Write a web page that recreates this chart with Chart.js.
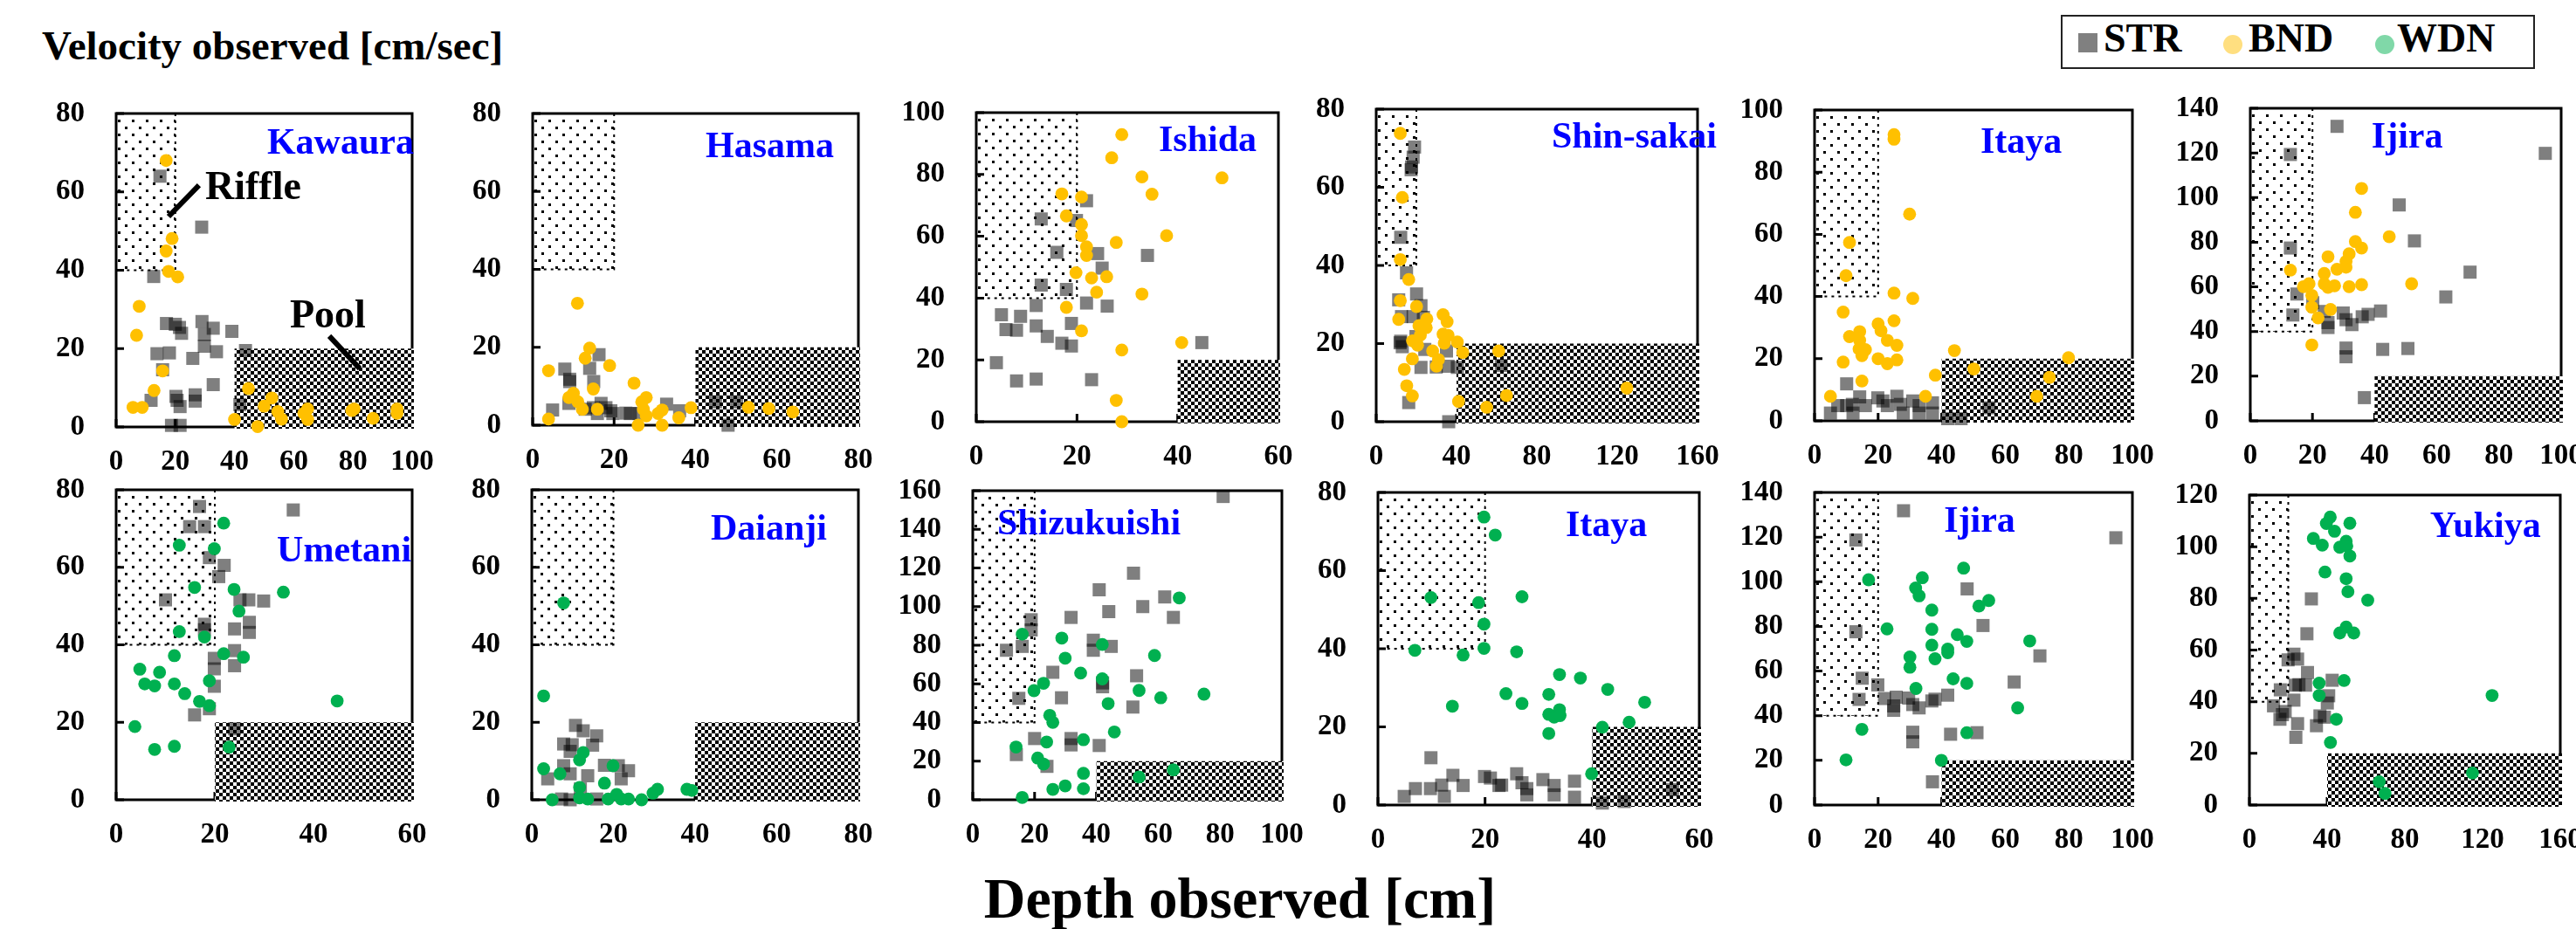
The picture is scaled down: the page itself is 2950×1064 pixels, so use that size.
<!DOCTYPE html>
<html>
<head>
<meta charset="utf-8">
<script src="https://cdn.jsdelivr.net/npm/chart.js@4.4.0/dist/chart.umd.min.js"></script>
<style>
html, body { margin: 0; padding: 0; background: #fff; }
#page { position: relative; width: 2950px; height: 1064px; overflow: hidden; background: #fff;
  font-family: "Liberation Serif", "Times New Roman", serif; font-weight: bold; color: #000; }
#page canvas { position: absolute; }
.title { position: absolute; white-space: nowrap; line-height: 1; }
#legend { position: absolute; left: 2360px; top: 17px; width: 539px; height: 58px;
  border: 2px solid #222; box-sizing: content-box; }
#legend span { position: absolute; }
.mark { width: 22px; height: 22px; }
.ltext { font-size: 46px; line-height: 1; top: 2px; }
</style>
</head>
<body>
<div id="page">
  <div class="title" style="left:48px; top:29px; font-size:47px;">Velocity observed [cm/sec]</div>
  <div class="title" id="xtitle" style="left:1420px; top:996px; font-size:66px; transform:translateX(-50%);">Depth observed [cm]</div>
  <div id="legend">
    <span class="mark" style="left:18px; top:19px; background:#808080;"></span>
    <span class="ltext" style="left:47px;">STR</span>
    <span class="mark" style="left:184px; top:21px; border-radius:50%; background:#ffdf80;"></span>
    <span class="ltext" style="left:213px;">BND</span>
    <span class="mark" style="left:358px; top:21px; border-radius:50%; background:#80d8a8;"></span>
    <span class="ltext" style="left:383px;">WDN</span>
  </div>
</div>
<script>
// axis settings per panel (top row left to right, then bottom row)
const stationNames = ['Kawaura', 'Hasama', 'Ishida', 'Shin-sakai', 'Itaya', 'Ijira',
                      'Umetani', 'Daianji', 'Shizukuishi', 'Itaya', 'Ijira', 'Yukiya'];
const xMaxes = [100, 80, 60, 160, 100, 100, 60, 80, 100, 60, 100, 160];
const xSteps = [20, 20, 20, 40, 20, 20, 20, 20, 20, 20, 20, 40];
const yMaxes = [80, 80, 100, 80, 100, 140, 80, 80, 160, 80, 140, 120];
const ySteps = [20, 20, 20, 20, 20, 20, 20, 20, 20, 20, 20, 20];
// riffle: depth < 20, velocity > 40 ; pool: depth > poolStart, velocity < 20
const riffleZone = [0, 20, 40];
const poolStart = [40, 40, 40, 40, 40, 40, 20, 40, 40, 40, 40, 40];
const poolTop = 20;

// [depth, velocity]
const kawauraSTR = [[14.8,64],[28.9,51],[12.7,38.4],[17,26.4],[20,26.2],[21.4,25.4],[22.1,23.9],[29,26.9],[32.8,25.2],[39.1,24.4],[29.8,23.6],[29.8,20.6],[13.8,18.7],[18,18.9],[25.9,17.5],[33.9,19.2],[43.7,19.5],[15.7,14.6],[32.8,10.8],[11.8,6.8],[20.2,7.8],[20.6,6.8],[21.6,5.2],[26.7,8.2],[26.7,6.6],[41.8,5.7],[18.7,0.4],[21.6,0.4]];
const kawauraBND = [[16.9,68],[18.9,48.1],[16.9,44.9],[17.7,39.7],[20.8,38.3],[7.8,30.8],[6.9,23.4],[15.7,14.3],[12.8,9.3],[5.7,5],[8.8,5],[44.7,9.8],[52.6,7.4],[50,5.3],[54.6,3.9],[55.9,2],[40,1.9],[47.8,0.1],[64.7,4.6],[63.4,3.5],[64.7,1.9],[80.4,4.6],[79.6,4.2],[86.8,2.2],[94.9,4.6],[94.9,3.5]];
const hasamaSTR = [[16.3,18.1],[7.9,14.4],[14,14.6],[9.1,11.8],[9.1,11.2],[15,11.2],[4.9,3.9],[8.9,5.6],[12.9,4.1],[14.9,4.5],[16.8,5.6],[15.9,3],[18,4.5],[19.2,3.7],[19.7,3],[22.9,3.1],[24,3],[26.1,3],[32.9,5.4],[36.1,3.7],[44.9,6],[50.1,6],[48,0]];
const hasamaBND = [[11,31.3],[14,19.8],[12.9,17.2],[18.9,15.3],[3.9,14],[24.9,10.8],[14.9,9.3],[10,8.2],[8.9,7.1],[11.1,6],[12.2,4.1],[15.9,4.1],[3.9,1.6],[27.9,7.1],[26.8,6],[27.2,4.1],[27.9,2.4],[25.9,0],[31.8,3.9],[30.8,3],[31.8,0],[35.9,1.9],[38.9,4.5],[53,4.6],[58,4.3],[63.9,3.4]];
const ishidaSTR = [[21.9,71.5],[12.9,65.6],[19.9,65.1],[16,54.8],[24.1,54.4],[34,53.8],[25,49.7],[12.9,44.2],[17.9,42.8],[21.9,38.4],[11.9,37.6],[26,37.4],[5,34.6],[8.8,34.1],[5.9,29.8],[8,29.6],[11.9,31],[18.9,31.8],[14.1,27.6],[17,25.4],[18.9,24.5],[44.8,25.6],[4,19.1],[8,13.2],[11.9,13.8],[22.9,13.6]];
const ishidaBND = [[28.9,92.9],[26.9,85.4],[32.9,79.2],[48.8,78.9],[34.9,73.6],[17,73.7],[20.9,72.7],[17.9,66.6],[20.9,63.8],[20.9,60.2],[37.8,60.2],[27.8,58],[21.9,56.6],[21.9,53.8],[19.8,48.2],[22.9,46.5],[25.9,46.9],[23.9,41.9],[32.9,41.3],[17.9,37],[20.9,29.4],[40.8,25.6],[28.9,23.2],[27.8,6.9],[28.9,0]];
const shinsakaiSTR = [[19.1,70.3],[18.4,67.7],[17.4,64.5],[17.6,65.2],[12.2,47.2],[15.1,38.1],[20.1,32.7],[11.2,31.2],[22.3,29.7],[12.6,26.9],[18.4,26.9],[23.5,26.7],[19.8,21.8],[11.9,20.2],[12.2,20.6],[13,19.2],[24.2,18.5],[35,18.1],[22.3,13.9],[29.9,14],[35.8,14.2],[40.4,13.9],[62.3,14.4],[16.2,4.9],[36.1,0]];
const shinsakaiBND = [[12,73.8],[13,57.4],[12,41.5],[16.2,36.4],[12,31],[20.1,29.5],[11.2,26.2],[33.3,27.4],[35.3,25.6],[25.2,26.3],[21.3,24.6],[24.9,24.1],[22,22.2],[33.3,22.4],[35.8,22.1],[18.1,20.7],[20.6,19.6],[33.9,20.1],[40.4,20.4],[43.1,17.7],[28.1,18.1],[31,15.9],[30,14.2],[18,16.1],[14,13.4],[61,18.1],[15.2,9.2],[18,6.6],[41,5.2],[55,3.7],[64.9,6.7],[124.8,8.6]];
const itayaTopSTR = [[10.1,11.9],[5,2.5],[7.3,4.9],[10.1,4.9],[11.9,5.3],[14.2,7.7],[12.1,2.5],[16,4.9],[19.9,7.4],[21.5,6.4],[22.9,4.9],[25.9,7.9],[27,5.3],[27.9,2.5],[30.9,6.4],[32.9,4.9],[32.9,2.5],[37.1,5.8],[37.1,2.5],[41.9,0.7],[46.1,0.7],[54.9,4.2]];
const itayaTopBND = [[25,92.1],[25,90.6],[29.9,66.5],[11,57.4],[9.9,46.7],[25,41.1],[30.9,39.4],[9,35],[25,32.2],[20,31.2],[14.2,28.7],[20.9,29],[11,27.1],[14.2,25.9],[22.9,25.9],[25.9,24.3],[14,23.1],[16,22.9],[14.9,21],[20,20],[25.9,19.6],[22.9,18.4],[9,18.9],[14.9,12.8],[5,7.9],[34.9,7.9],[38,14.7],[44,22.6],[50.1,16.7],[73.9,14],[69.9,7.9],[79.9,20.3]];
const ijiraTopSTR = [[27.9,131.9],[94.9,119.8],[12.9,119.3],[47.9,96.7],[52.8,80.6],[12.9,77.4],[70.7,66.6],[62.9,55.5],[15,56.8],[13.7,47.4],[20.1,52.9],[23.8,49],[25,44],[25,41.8],[29.9,48.3],[30.8,45.3],[32.7,43.1],[36,46.6],[37.9,47.7],[41.9,49.2],[30.8,32.6],[30.8,28.7],[42.6,32],[50.7,32.4],[36.7,10.4]];
const ijiraTopBND = [[35.8,104.1],[33.8,93.4],[44.7,82.5],[33.8,80.3],[35.8,77.4],[31.8,74.8],[25,73.5],[30.8,71.4],[27.9,67.9],[30.8,68.8],[12.9,67.5],[23.8,66],[18.9,61.4],[17.1,60.1],[23.8,61.4],[25,59.8],[27.1,60.5],[31.8,60.1],[35.8,61],[51.9,61.4],[19.8,56.2],[19.8,50.9],[25.8,49.9],[21.8,46.1],[19.8,34]];
const umetaniSTR = [[16.9,75.7],[35.9,74.8],[14.9,70.5],[17.9,70.5],[18.9,62.5],[21.9,60.5],[20.8,57.6],[10,51.6],[25.1,51.6],[26.9,51.6],[29.9,51.3],[17.9,45.3],[17.9,43.9],[27,45.8],[27,43.2],[24,44.1],[24,38.5],[19.9,36.5],[19.9,33.8],[24,34.6],[19.9,29.3],[18.9,23.5],[15.9,21.9],[24,18.3]];
const umetaniWDN = [[21.8,71.4],[12.8,65.7],[19.9,64.8],[15.9,54.8],[23.9,54.3],[33.9,53.6],[24.9,48.7],[12.8,43.4],[17.9,42],[11.8,37.2],[21.8,37.7],[25.8,36.8],[4.8,33.7],[8.8,32.9],[11.8,29.9],[18.9,30.7],[5.8,29.9],[7.8,29.4],[13.9,27.4],[16.9,25.4],[18.9,24.3],[44.8,25.5],[3.8,18.9],[7.8,13],[11.8,13.8],[22.9,13.6]];
const daianjiSTR = [[10.7,19.2],[12.6,17.8],[15.9,16.5],[7.8,14.4],[9.9,14.2],[14.9,14.1],[9.4,12.5],[7.8,8.8],[9.4,6.7],[3.9,5.4],[13.7,6.2],[17.8,8.9],[21.2,8.8],[23.7,7.5],[21.9,5.4],[11.9,2.8],[7.3,0.2],[9.4,0],[15.9,0.2]];
const daianjiWDN = [[7.8,50.8],[2.9,26.8],[12.6,12.2],[11.7,10.3],[19.9,8.8],[2.9,8],[6.9,6.7],[17.8,4.3],[11.7,3.2],[11.7,0.5],[13.7,0.2],[5,0],[18.7,0.2],[20.8,1.4],[21.9,0.2],[23.7,0.2],[26.9,0],[29.7,1.7],[30.8,2.7],[38,2.7],[39.2,2.4]];
const shizukuishiSTR = [[81,157],[52,117.3],[40.9,108.7],[62.1,105],[55,100],[44,97.4],[31.8,94.4],[64.9,94.4],[18.9,93.2],[18.9,87.9],[39,82.6],[39,77.4],[44.8,79.4],[16,79.4],[10.9,77.4],[25.9,66],[53,64.2],[42,58.5],[42,60.5],[14.9,52.5],[28.7,52.8],[51.8,48],[20,31.7],[31.8,31.7],[31.8,28.4],[40.9,28.1],[14.1,23.4],[24,17.3]];
const shizukuishiWDN = [[66.8,104.5],[16,85.7],[28.8,83.7],[41.9,80.4],[29.9,73.3],[58.8,74.7],[34.9,65.6],[41.9,62.6],[22.9,60.3],[19.8,56.5],[53.8,56.6],[60.8,52.8],[74.8,54.7],[43.8,49.8],[24.9,43.7],[25.9,40.1],[45.8,35.1],[14,27.3],[23.9,29.9],[35.8,31.1],[21,21.6],[22.9,18.5],[35.8,13.7],[53.8,11.8],[64.9,15.5],[25.9,5.4],[29.9,7.2],[35.8,5.7],[16,1.2]];
const itayaBotSTR = [[9.9,12.1],[14,7.6],[19.9,7.3],[21,6.9],[25.9,8],[30.8,6.5],[26.9,5.7],[36.7,6.1],[15.9,5],[11.9,5.1],[9.8,4.2],[7,4.2],[4.9,2.2],[22.6,5],[23.1,5.1],[27.8,4.2],[32.9,5],[32.9,2.6],[27.8,2.6],[12.4,2.2],[36.7,2],[41.9,0.5],[46,0.9],[55,3.9]];
const itayaBotWDN = [[19.8,73.7],[21.9,69.1],[9.9,53.1],[18.8,51.8],[26.9,53.3],[19.8,46.3],[19.8,40.1],[6.9,39.6],[15.9,38.4],[25.9,39.2],[33.9,33.4],[37.8,32.5],[42.9,29.6],[23.9,28.5],[31.9,28.3],[49.8,26.3],[26.9,26],[13.9,25.3],[33.9,24.4],[31.9,23.2],[32.9,22.5],[34,22.9],[46.9,21.2],[41.9,19.9],[31.9,18.3],[39.9,8]];
const ijiraBotSTR = [[28,131.8],[94.8,119.7],[13,118.7],[48,96.8],[53,80.4],[13,77.6],[70.9,66.8],[62.8,55.1],[15,56.8],[19.9,53.8],[14,47.3],[22,47.7],[25.7,48.3],[29.6,47.9],[24.9,44.4],[24.9,42.4],[30.9,45],[32.9,43.5],[36.9,46.6],[37.9,47.4],[41.9,49.2],[30.9,32.6],[30.9,28.3],[42.8,31.7],[51.1,32.4],[37.1,10.4]];
const ijiraBotWDN = [[46.9,106.1],[33.9,101.8],[17,100.9],[31.8,97.2],[32.9,93.7],[54.8,91.6],[51.7,89.1],[36.9,87.3],[22.8,78.9],[36.9,78.7],[44.9,76.3],[47.9,73.3],[67.7,73.5],[36.9,71.6],[41.9,69.8],[41.9,68.2],[30,66.3],[37.9,65.5],[30,61.7],[43.6,56.5],[47.9,54.5],[31.9,52.2],[63.9,43.5],[14.9,33.9],[47.9,32.4],[9.9,20.2],[39.9,20]];
const yukiyaSTR = [[31.9,79.8],[29.6,66.3],[22.9,58.4],[19.9,56.2],[24.8,56.5],[29.9,51.3],[23.6,46.4],[25.5,46.6],[28.9,46.4],[42.6,48.3],[15.9,44.6],[22.9,40.6],[40.8,42.3],[40.1,39.5],[12.4,38.4],[18.4,36.2],[17,35],[15.7,33.2],[36.3,34.5],[38.6,34],[24.8,31.5],[34.5,30.7],[23.9,26.2]];
const yukiyaWDN = [[41.6,111.5],[39.6,109],[51.7,109.1],[43.8,106],[32.9,103.2],[49.8,102.1],[37.5,100.6],[46.5,99.8],[50.1,100.3],[51.7,96.4],[38.9,90.2],[49.8,87.6],[50.7,82.6],[60.9,79.3],[46.5,66.6],[49.8,68.9],[53.7,66.6],[35.9,47.2],[48.7,48.2],[35.9,42.4],[124.9,42.4],[44.7,33.2],[41.7,24.2],[114.8,12.4],[66.8,9],[69.8,4.5]];

const strSets = [kawauraSTR, hasamaSTR, ishidaSTR, shinsakaiSTR, itayaTopSTR, ijiraTopSTR,
                 umetaniSTR, daianjiSTR, shizukuishiSTR, itayaBotSTR, ijiraBotSTR, yukiyaSTR];
const otherSets = [kawauraBND, hasamaBND, ishidaBND, shinsakaiBND, itayaTopBND, ijiraTopBND,
                   umetaniWDN, daianjiWDN, shizukuishiWDN, itayaBotWDN, ijiraBotWDN, yukiyaWDN];

// plot boxes on the page [left, top, right, bottom]
const boxes = [
  [133,130,472,489], [610,130,983,487], [1118,129,1464,483], [1576,125,1944,483], [2078,126,2442,482], [2577,124,2933,482],
  [133,561,472,916], [609,561,983,916], [1114,562,1468,916], [1578,564,1946,922], [2078,564,2442,922], [2576,567,2932,922]
];
// station name position as fraction of plot box [left, baseline]
const namePos = [[0.51,0.128],[0.531,0.14],[0.604,0.124],[0.546,0.123],[0.522,0.138],[0.39,0.126],
                 [0.543,0.231],[0.548,0.161],[0.079,0.141],[0.584,0.14],[0.407,0.126],[0.581,0.135]];

const FONT = "'Liberation Serif', 'Times New Roman', serif";
const PAD_L = 110, PAD_T = 25, PAD_R = 40, AX_H = 70;

function makePatterns(ctx) {
  const d = document.createElement('canvas');
  d.width = 16; d.height = 16;
  const g = d.getContext('2d');
  g.fillStyle = '#000';
  g.fillRect(0, 0, 3, 3);
  g.fillRect(8, 8, 3, 3);
  const c = document.createElement('canvas');
  c.width = 8; c.height = 8;
  const h = c.getContext('2d');
  h.fillStyle = '#fff'; h.fillRect(0, 0, 8, 8);
  h.fillStyle = '#000';
  h.fillRect(0, 0, 4, 4);
  h.fillRect(4, 4, 4, 4);
  return { dots: ctx.createPattern(d, 'repeat'), checks: ctx.createPattern(c, 'repeat') };
}

const panelDecor = {
  id: 'panelDecor',
  beforeDatasetsDraw(chart, args, opts) {
    const { ctx, chartArea: a } = chart;
    const x = chart.scales.x, y = chart.scales.y;
    const pats = makePatterns(ctx);
    ctx.save();
    // frame
    ctx.strokeStyle = '#000';
    ctx.lineWidth = 3;
    ctx.strokeRect(a.left, a.top, a.right - a.left, a.bottom - a.top);
    // inner tick marks
    ctx.beginPath();
    x.ticks.forEach(t => {
      const px = x.getPixelForValue(t.value);
      ctx.moveTo(px, a.bottom); ctx.lineTo(px, a.bottom - 9);
    });
    y.ticks.forEach(t => {
      const py = y.getPixelForValue(t.value);
      ctx.moveTo(a.left, py); ctx.lineTo(a.left + 9, py);
    });
    ctx.stroke();
    // riffle zone
    const r0 = x.getPixelForValue(riffleZone[0]), r1 = x.getPixelForValue(riffleZone[1]);
    const rb = y.getPixelForValue(riffleZone[2]);
    ctx.fillStyle = pats.dots;
    ctx.fillRect(r0 + 2, a.top + 2, r1 - r0 - 2, rb - a.top - 2);
    ctx.strokeStyle = '#000';
    ctx.lineWidth = 2;
    ctx.setLineDash([3, 5]);
    ctx.beginPath();
    ctx.moveTo(r1, a.top); ctx.lineTo(r1, rb); ctx.lineTo(r0, rb);
    ctx.stroke();
    ctx.setLineDash([]);
    // pool zone
    const p0 = x.getPixelForValue(opts.poolStart), p1 = a.right + 2;
    const pt = y.getPixelForValue(poolTop);
    ctx.fillStyle = pats.checks;
    ctx.fillRect(p0, pt, p1 - p0, a.bottom + 2 - pt);
    // station name
    ctx.fillStyle = '#0000ff';
    ctx.font = 'bold 42px ' + FONT;
    ctx.textBaseline = 'alphabetic';
    ctx.fillText(opts.name, a.left + opts.namePos[0] * (a.right - a.left), a.top + opts.namePos[1] * (a.bottom - a.top));
    // riffle / pool call-outs
    if (opts.notes) {
      ctx.fillStyle = '#000';
      ctx.font = 'bold 46px ' + FONT;
      ctx.fillText('Riffle', x.getPixelForValue(30.1), y.getPixelForValue(58.2));
      ctx.fillText('Pool', x.getPixelForValue(58.7), y.getPixelForValue(25.4));
      ctx.lineWidth = 6;
      ctx.beginPath();
      ctx.moveTo(x.getPixelForValue(17.7), y.getPixelForValue(53.7));
      ctx.lineTo(x.getPixelForValue(28.0), y.getPixelForValue(61.7));
      ctx.moveTo(x.getPixelForValue(72.0), y.getPixelForValue(23.2));
      ctx.lineTo(x.getPixelForValue(82.3), y.getPixelForValue(14.9));
      ctx.stroke();
    }
    ctx.restore();
  }
};

const toXY = arr => arr.map(p => ({ x: p[0], y: p[1] }));
const page = document.getElementById('page');

boxes.forEach((b, i) => {
  const cv = document.createElement('canvas');
  const w = (b[2] - b[0]) + PAD_L + PAD_R;
  const h = (b[3] - b[1]) + PAD_T + AX_H;
  cv.width = w; cv.height = h;
  cv.style.left = (b[0] - PAD_L) + 'px';
  cv.style.top = (b[1] - PAD_T) + 'px';
  cv.style.width = w + 'px'; cv.style.height = h + 'px';
  page.appendChild(cv);
  const isTop = i < 6;
  const tickFont = { family: FONT, size: 33, weight: 'bold' };

  new Chart(cv, {
    type: 'scatter',
    data: {
      datasets: [
        { label: 'STR', data: toXY(strSets[i]), pointStyle: 'rect', pointRadius: 10.6,
          backgroundColor: 'rgba(0,0,0,0.5)', borderWidth: 0, order: 1, clip: false },
        { label: isTop ? 'BND' : 'WDN', data: toXY(otherSets[i]), pointStyle: 'circle', pointRadius: 7.4,
          backgroundColor: isTop ? '#ffc000' : '#00b050', borderWidth: 0, order: 0, clip: false }
      ]
    },
    options: {
      responsive: false,
      animation: false,
      devicePixelRatio: 1,
      events: [],
      layout: { padding: { left: 0, top: PAD_T, right: PAD_R, bottom: 0 } },
      plugins: {
        legend: { display: false },
        tooltip: { enabled: false },
        panelDecor: { name: stationNames[i], namePos: namePos[i], poolStart: poolStart[i], notes: i === 0 }
      },
      scales: {
        x: {
          type: 'linear', min: 0, max: xMaxes[i],
          ticks: { stepSize: xSteps[i], padding: 21, color: '#000', font: tickFont, maxRotation: 0 },
          grid: { display: false, drawTicks: false },
          border: { display: false },
          afterFit(s) { s.height = AX_H; s.paddingLeft = 0; s.paddingRight = 0; }
        },
        y: {
          type: 'linear', min: 0, max: yMaxes[i],
          ticks: { stepSize: ySteps[i], padding: 36, color: '#000', font: tickFont },
          grid: { display: false, drawTicks: false },
          border: { display: false },
          afterFit(s) { s.width = PAD_L; s.paddingTop = 0; s.paddingBottom = 0; }
        }
      }
    },
    plugins: [panelDecor]
  });
});
</script>
</body>
</html>
